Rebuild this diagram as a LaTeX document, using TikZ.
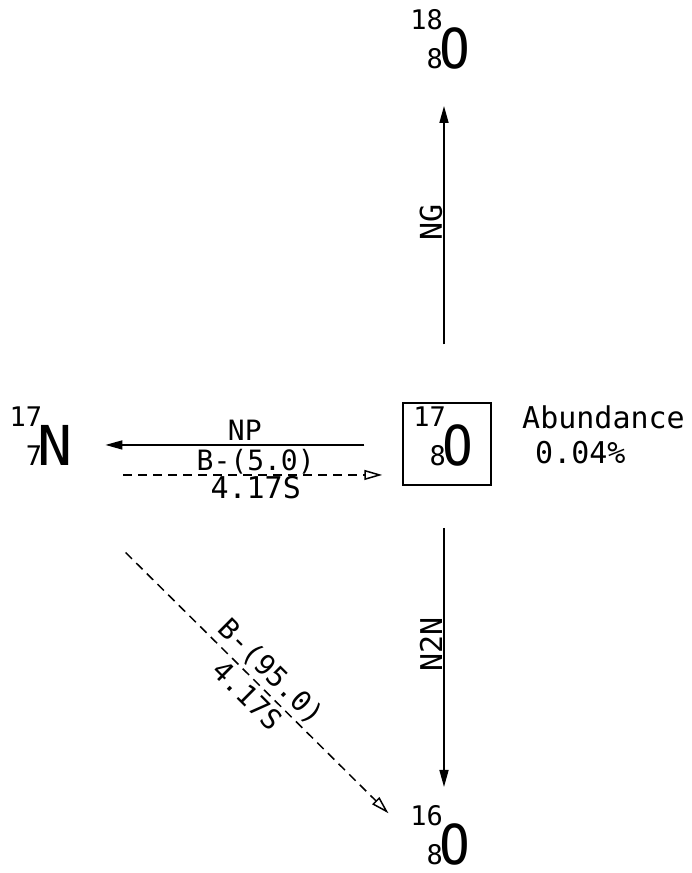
\documentclass[tikz,border=0pt]{standalone}
\usepackage{fontspec}
\usepackage{graphicx}
\usetikzlibrary{arrows.meta}
\newfontfamily\plotfont{DejaVu Sans Mono}
\newcommand{\numsize}{\plotfont\fontsize{27}{27}\selectfont}
\newcommand{\symsize}{\plotfont\fontsize{55}{55}\selectfont}
\newcommand{\nuclide}[5]{%
  \smash{\kern#5\llap{\numsize\raisebox{39pt}{#1}}\llap{\numsize #2}\kern-#5}%
  \scalebox{#4}[1]{\symsize #3}}

\begin{document}
\begin{tikzpicture}[x=1pt,y=-1pt,
  nuc/.style={inner sep=0pt, anchor=base west},
  lbl/.style={font=\plotfont\fontsize{28}{28}\selectfont, inner sep=0pt},
  big/.style={font=\plotfont\fontsize{30}{30}\selectfont},
  reaction/.style={line width=1.6pt, -{Triangle[length=17pt,width=9pt]}},
  decay/.style={line width=1.5pt, dash pattern=on 9pt off 6pt, -{Triangle[open,length=18pt,width=10pt]}}]
  \useasboundingbox (0,0) rectangle (691,873);

  \node[nuc] (O18) at (439.6,68) {\nuclide{18}{8}{O}{0.93}{3pt}};
  \node[draw, line width=1.5pt, minimum width=88pt, minimum height=82pt] (O17) at (447,444) {};
  \node[nuc] (O17n) at (442.6,465) {\nuclide{17}{8}{O}{0.93}{3pt}};
  \node[nuc] (N17) at (37.4,465) {\nuclide{17}{7}{N}{1.06}{4.5pt}};
  \node[nuc] (O16) at (439.6,864) {\nuclide{16}{8}{O}{0.93}{3pt}};
  \node[lbl, big, anchor=base west] (abund) at (522,428) {Abundance};
  \node[lbl, big, anchor=base west] (abval) at (535,463) {0.04\%};

  \coordinate (ng) at ([xshift=-3pt]O17.north);
  \draw[reaction, shorten <=58pt, shorten >=37pt] (ng) -- (ng |- O18.south)
    node[lbl, big, pos=0.54, rotate=90, anchor=south, inner sep=1pt] {NG};
  \coordinate (nn) at ([xshift=-3pt]O17.south);
  \draw[reaction, shorten <=42pt, shorten >=36pt] (nn) -- (nn |- O16.north)
    node[lbl, big, pos=0.47, rotate=90, anchor=south, inner sep=1pt] {N2N};
  \draw[reaction, shorten <=38pt, shorten >=32.5pt] (O17.west |- N17.east) -- (N17.east)
    node[lbl, pos=0.478, above=4pt] {NP};

  \coordinate (bl) at ([yshift=-30pt]N17.east);
  \draw[decay, shorten <=50.5pt, shorten >=20pt] (bl) -- (bl -| O17.west)
    node[lbl, pos=0.555, above] {B-(5.0)}
    node[lbl, big, pos=0.555, below=1pt] {4.17S};
  \draw[decay, shorten <=124.2pt, shorten >=72pt] (N17.base west) -- (O16.base west)
    node[lbl, pos=0.55, sloped, above=4pt] {B-(95.0)}
    node[lbl, pos=0.55, sloped, below=4pt] {4.17S};
\end{tikzpicture}
\end{document}
